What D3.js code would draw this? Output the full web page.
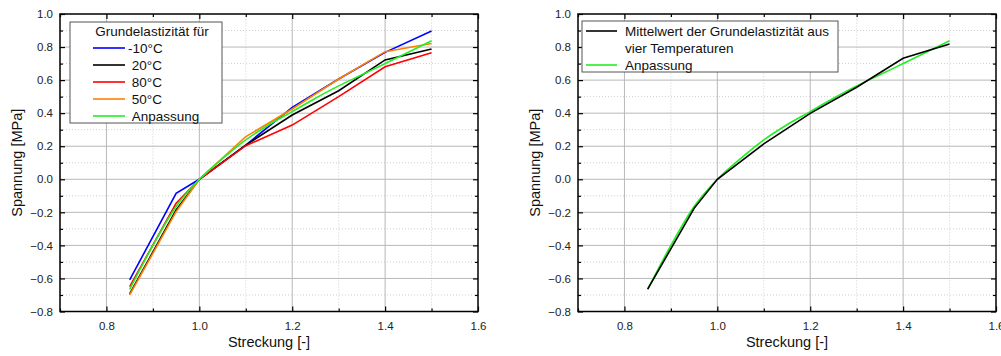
<!DOCTYPE html>
<html><head><meta charset="utf-8">
<script src="https://cdn.jsdelivr.net/npm/d3@7/dist/d3.min.js"></script>
<style>body{margin:0;background:#fff}svg{display:block;font-family:"Liberation Sans",Arial,sans-serif}</style>
</head><body><svg id="c" width="1001" height="356"></svg>
<script>
const strain = [0.85, 0.95, 1.0, 1.1, 1.2, 1.3, 1.4, 1.5];
const sM10 = [-0.609, -0.085, 0, 0.207, 0.435, 0.607, 0.768, 0.897];
const s20 = [-0.694, -0.186, 0, 0.207, 0.389, 0.536, 0.722, 0.788];
const s80 = [-0.650, -0.145, 0, 0.203, 0.328, 0.500, 0.681, 0.766];
const s50 = [-0.700, -0.196, 0, 0.258, 0.425, 0.607, 0.772, 0.822];
const fitX = [0.85, 0.9, 0.95, 1.0, 1.05, 1.1, 1.15, 1.2, 1.25, 1.3, 1.35, 1.4, 1.45, 1.5];
const fitY = [-0.666, -0.400, -0.165, 0, 0.125, 0.238, 0.330, 0.409, 0.490, 0.565, 0.632, 0.700, 0.768, 0.838];
const meanY = [-0.665, -0.176, 0, 0.214, 0.399, 0.557, 0.732, 0.818];
const xTicks = [0.8, 1.0, 1.2, 1.4, 1.6];
const yTicks = [-0.8, -0.6, -0.4, -0.2, 0.0, 0.2, 0.4, 0.6, 0.8, 1.0];
const legend1Title = "Grundelastizität für";
const legend1 = ["-10°C", "\u00a020°C", "\u00a080°C", "\u00a050°C", "\u00a0Anpassung"];
const legend2 = ["Mittelwert der Grundelastizität aus", "vier Temperaturen", "Anpassung"];
const xTitle = "Streckung [-]", yTitle = "Spannung [MPa]";

const svg = d3.select("#c");
const fmt = d3.format(".1f");

function panel(x0, series, legendFn) {
  const x = d3.scaleLinear().domain([0.7, 1.6]).range([x0, x0 + 418]);
  const y = d3.scaleLinear().domain([-0.8, 1.0]).range([311.5, 14]);
  const g = svg.append("g");
  const xMinor = d3.range(0.7, 1.61, 0.1).map(v => +v.toFixed(2));
  const yMinor = d3.range(-0.8, 1.01, 0.1).map(v => +v.toFixed(2));
  const isMajX = v => Math.abs(Math.round(v * 5) - v * 5) < 1e-6;
  // minor grid
  g.selectAll(null).data(xMinor.filter(v => !isMajX(v))).enter().append("line")
    .attr("x1", d => x(d)).attr("x2", d => x(d)).attr("y1", y(-0.8)).attr("y2", y(1.0))
    .attr("stroke", "#cfcfcf").attr("stroke-dasharray", "1,2");
  g.selectAll(null).data(yMinor.filter(v => !isMajX(v))).enter().append("line")
    .attr("y1", d => y(d)).attr("y2", d => y(d)).attr("x1", x(0.7)).attr("x2", x(1.6))
    .attr("stroke", "#cfcfcf").attr("stroke-dasharray", "1,2");
  // major grid
  g.selectAll(null).data(xTicks.filter(v => v < 1.6)).enter().append("line")
    .attr("x1", d => x(d)).attr("x2", d => x(d)).attr("y1", y(-0.8)).attr("y2", y(1.0))
    .attr("stroke", "#b8b8b8");
  g.selectAll(null).data(yTicks.filter(v => v > -0.8 && v < 1.0)).enter().append("line")
    .attr("y1", d => y(d)).attr("y2", d => y(d)).attr("x1", x(0.7)).attr("x2", x(1.6))
    .attr("stroke", "#b8b8b8");
  // axes
  const ax = (axis, tr) => {
    const a = g.append("g").attr("transform", tr).call(axis);
    a.select(".domain").remove();
    a.selectAll("line").attr("stroke", "#000").attr("stroke-width", 1.2);
    a.selectAll("text").attr("fill", "#222").style("font-size", "11.5px").style("font-family", "'Liberation Sans',Arial,sans-serif");
    return a;
  };
  ax(d3.axisBottom(x).tickValues(xTicks).tickFormat(fmt).tickSizeInner(-5).tickSizeOuter(0).tickPadding(10), `translate(0,${y(-0.8)})`);
  ax(d3.axisBottom(x).tickValues(xMinor.filter(v => !isMajX(v))).tickFormat("").tickSizeInner(-3).tickSizeOuter(0), `translate(0,${y(-0.8)})`);
  ax(d3.axisTop(x).tickValues(xTicks).tickFormat("").tickSizeInner(-5).tickSizeOuter(0), `translate(0,${y(1.0)})`);
  ax(d3.axisTop(x).tickValues(xMinor.filter(v => !isMajX(v))).tickFormat("").tickSizeInner(-3).tickSizeOuter(0), `translate(0,${y(1.0)})`);
  ax(d3.axisLeft(y).tickValues(yTicks).tickFormat(fmt).tickSizeInner(-5).tickSizeOuter(0).tickPadding(7), `translate(${x(0.7)},0)`);
  ax(d3.axisLeft(y).tickValues(yMinor.filter(v => !isMajX(v))).tickFormat("").tickSizeInner(-3).tickSizeOuter(0), `translate(${x(0.7)},0)`);
  ax(d3.axisRight(y).tickValues(yTicks).tickFormat("").tickSizeInner(-5).tickSizeOuter(0), `translate(${x(1.6)},0)`);
  ax(d3.axisRight(y).tickValues(yMinor.filter(v => !isMajX(v))).tickFormat("").tickSizeInner(-3).tickSizeOuter(0), `translate(${x(1.6)},0)`);
  g.append("rect").attr("x", x(0.7)).attr("y", y(1.0)).attr("width", x(1.6) - x(0.7)).attr("height", y(-0.8) - y(1.0))
    .attr("fill", "none").attr("stroke", "#000").attr("stroke-width", 1.5);
  // series
  series.forEach(s => {
    const pts = s.xs.map((v, i) => [v, s.ys[i]]);
    const ln = d3.line().x(d => x(d[0])).y(d => y(d[1]));
    if (s.smooth) ln.curve(d3.curveMonotoneX);
    g.append("path").attr("d", ln(pts))
      .attr("fill", "none").attr("stroke", s.color).attr("stroke-width", 1.6);
  });
  // titles
  g.append("text").attr("x", (x(0.7) + x(1.6)) / 2).attr("y", 347).attr("text-anchor", "middle")
    .style("font-size", "14.5px").attr("fill", "#111").text(xTitle);
  g.append("text").attr("transform", `translate(${x0 - 38},${y(0.1)}) rotate(-90)`).attr("text-anchor", "middle")
    .style("font-size", "14.5px").attr("fill", "#111").text(yTitle);
  legendFn(g, x0);
}

const C = { blue: "#0000ff", black: "#000000", red: "#ff0000", orange: "#ff8000", green: "#22ee22" };

panel(60, [
  { xs: strain, ys: sM10, color: C.blue },
  { xs: strain, ys: s20, color: C.black },
  { xs: strain, ys: s80, color: C.red },
  { xs: strain, ys: s50, color: C.orange },
  { xs: fitX, ys: fitY, color: C.green, smooth: true }
], (g, x0) => {
  g.append("rect").attr("x", 70).attr("y", 22).attr("width", 152).attr("height", 101)
    .attr("fill", "#fff").attr("stroke", "#555").attr("stroke-width", 1);
  g.append("text").attr("x", 152).attr("y", 36).attr("text-anchor", "middle").style("font-size", "13.5px").attr("fill", "#111").text(legend1Title);
  const cols = [C.blue, C.black, C.red, C.orange, C.green];
  legend1.forEach((t, i) => {
    const yy = 48 + i * 17;
    g.append("line").attr("x1", 93).attr("x2", 125).attr("y1", yy).attr("y2", yy).attr("stroke", cols[i]).attr("stroke-width", 1.6);
    g.append("text").attr("x", 128).attr("y", yy + 5).style("font-size", "13.5px").attr("fill", "#111").text(t);
  });
});

panel(578, [
  { xs: fitX, ys: fitY, color: C.green, smooth: true },
  { xs: strain, ys: meanY, color: C.black }
], (g, x0) => {
  g.append("rect").attr("x", 582).attr("y", 21).attr("width", 256).attr("height", 51)
    .attr("fill", "#fff").attr("stroke", "#555").attr("stroke-width", 1);
  g.append("line").attr("x1", 586).attr("x2", 617).attr("y1", 31).attr("y2", 31).attr("stroke", C.black).attr("stroke-width", 1.6);
  g.append("line").attr("x1", 586).attr("x2", 617).attr("y1", 65).attr("y2", 65).attr("stroke", C.green).attr("stroke-width", 1.6);
  [31, 48, 65].forEach((yy, i) => {
    g.append("text").attr("x", 625).attr("y", yy + 5).style("font-size", "13.5px").attr("fill", "#111").text(legend2[i]);
  });
});
</script></body></html>
